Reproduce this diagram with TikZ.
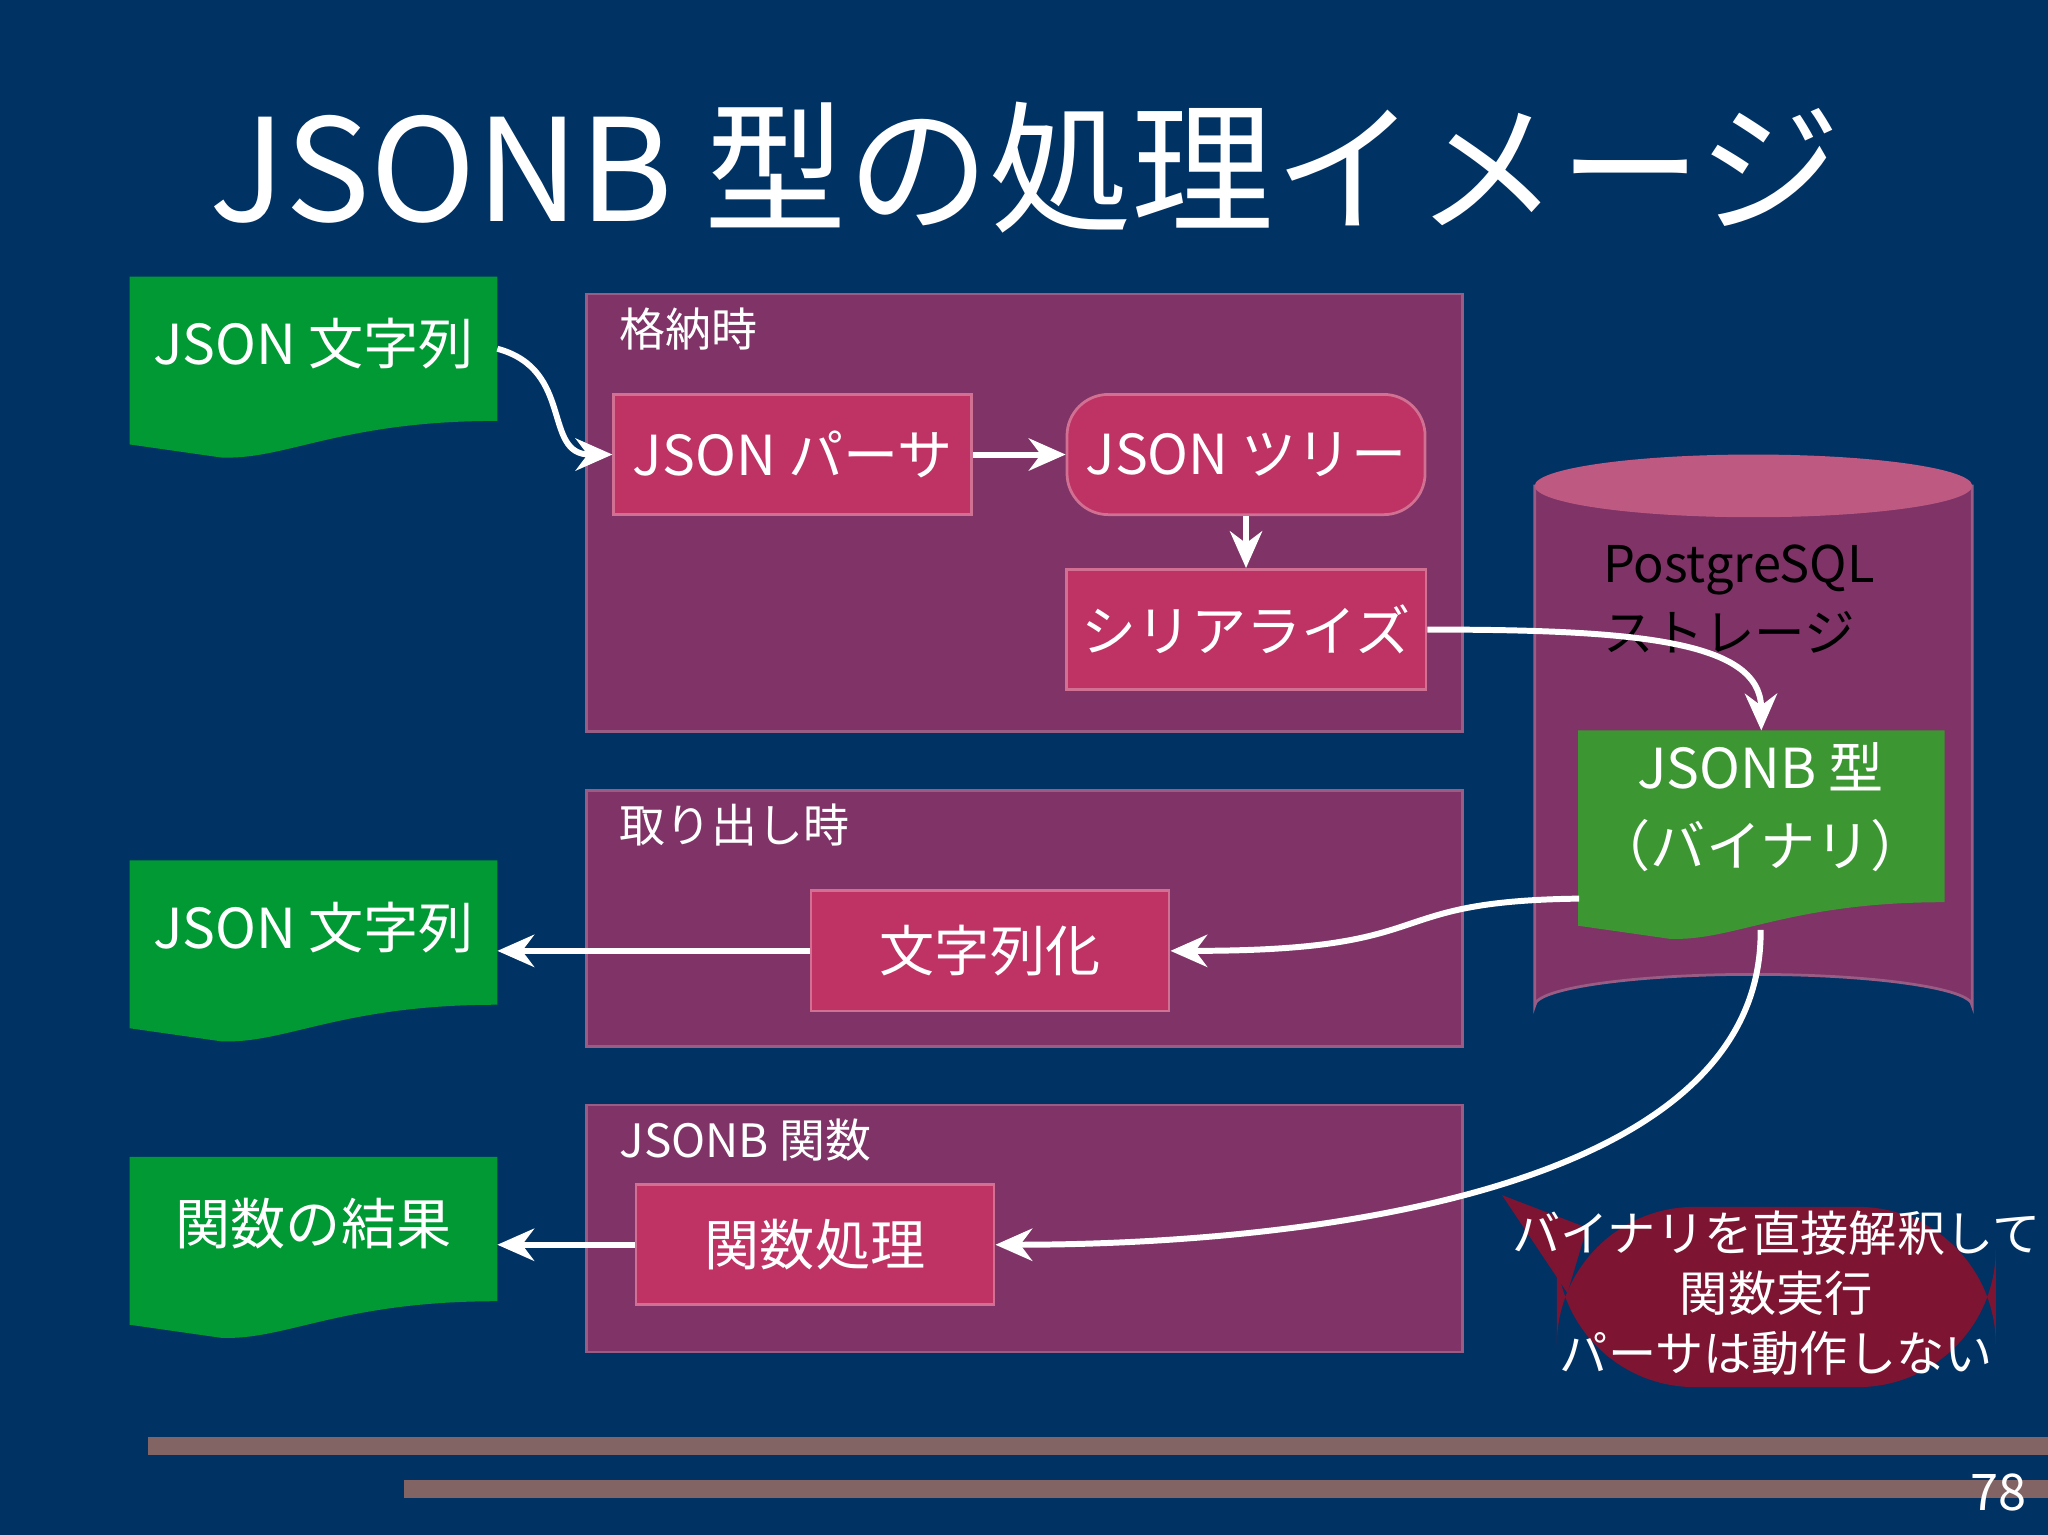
\documentclass[tikz,border=0pt]{standalone}
\usepackage{fontspec}
\setmainfont{Noto Sans CJK JP}
\usetikzlibrary{arrows.meta,shapes.geometric,shapes.callouts}
\definecolor{bg}{RGB}{0,50,100}
\definecolor{panel}{RGB}{127,51,102}
\definecolor{boxc}{RGB}{190,50,100}
\definecolor{docg}{RGB}{0,153,51}
\definecolor{docg2}{RGB}{60,150,50}
\definecolor{cyltop}{RGB}{190,90,130}
\definecolor{call}{RGB}{125,20,50}
\definecolor{bar}{RGB}{130,100,100}
\tikzset{
  panel/.style={fill=panel,draw=panel!80!white,line width=0.6pt,anchor=north west,inner sep=0pt},
  plabel/.style={text=white,font=\fontsize{10pt}{12pt}\selectfont,anchor=west},
  box/.style={fill=boxc,draw=boxc!70!white,line width=0.6pt,minimum width=2.74cm,minimum height=0.92cm,text=white,font=\fontsize{12pt}{14pt}\selectfont},
  doc/.style={minimum width=2.8cm,minimum height=1.09cm,text=white,font=\fontsize{12pt}{14pt}\selectfont,inner sep=0pt},
  arr/.style={draw=white,line width=1.3pt,-{Stealth[length=8pt,width=7pt]}}
}
\newcommand{\docwave}[2]{% name, color
  \fill[#2] (#1.north west) -- (#1.north east) -- (#1.south east)
    .. controls ([xshift=-1.2cm,yshift=0cm]#1.south east) and ([xshift=1.2cm,yshift=-0.3cm]#1.south west) ..
    ([xshift=0.7cm,yshift=-0.28cm]#1.south west) -- ([yshift=-0.18cm]#1.south west) -- cycle;}
\begin{document}
\begin{tikzpicture}[x=0.01cm,y=-0.01cm]
\fill[bg] (0,0) rectangle (1568,1175);
\useasboundingbox (0,0) rectangle (1568,1175);
\node[text=white,font=\fontsize{31pt}{36pt}\selectfont] (title) at (785,128) {JSONB 型の処理イメージ};
% panels
\node[panel,minimum width=6.7cm,minimum height=3.35cm] (p1) at (448,224) {};
\node[plabel] (l1) at (462,252) {格納時};
\node[panel,minimum width=6.7cm,minimum height=1.96cm] (p2) at (448,604) {};
\node[plabel] (l2) at (462,632) {取り出し時};
\node[panel,minimum width=6.7cm,minimum height=1.89cm] (p3) at (448,845) {};
\node[plabel] (l3) at (462,873) {JSONB 関数};
% boxes
\node[box] (parser) at (607,348) {JSON パーサ};
\node[box,rounded corners=9pt] (tree) at (954,348) {JSON ツリー};
\node[box] (ser) at (954,482) {シリアライズ};
\node[box] (str) at (758,728) {文字列化};
\node[box] (func) at (624,953) {関数処理};
% docs
\node[doc] (d1) at (240,267) {};
\docwave{d1}{docg}
\node[text=white,font=\fontsize{12pt}{14pt}\selectfont] (t1) at (240,263) {JSON 文字列};
\node[doc] (d2) at (240,714) {};
\docwave{d2}{docg}
\node[text=white,font=\fontsize{12pt}{14pt}\selectfont] (t2) at (240,710) {JSON 文字列};
\node[doc] (d3) at (240,941) {};
\docwave{d3}{docg}
\node[text=white,font=\fontsize{12pt}{14pt}\selectfont] (t3) at (240,937) {関数の結果};
% cylinder
\fill[panel] (1175,372) -- (1175,770) arc[start angle=180,end angle=360,x radius=167.5,y radius=24] -- (1510,372) -- cycle;
\fill[cyltop] (1342.5,372) ellipse[x radius=167.5,y radius=24];
\node[anchor=north west,align=left,font=\fontsize{11pt}{15pt}\selectfont,text=black] (pg) at (1215,405) {PostgreSQL\\ストレージ};
% jsonb
\node[doc,minimum width=2.79cm,minimum height=1.3cm] (jb) at (1348.5,625) {};
\docwave{jb}{docg2}
\node[text=white,align=center,font=\fontsize{12pt}{17pt}\selectfont] (jbt) at (1348,618) {JSONB 型\\（バイナリ）};
% callout
\fill[call] (1192,924) ++(0,0) [rounded corners=30pt] rectangle (1528,1062);
\fill[call] (1150,915) -- (1215,940) -- (1200,990) -- cycle;
\node[text=white,align=center,font=\fontsize{10.5pt}{13pt}\selectfont] (co) at (1360,990) {バイナリを直接解釈して\\関数実行\\パーサは動作しない};
% bars
\fill[bar] (113,1100) rectangle (1568,1114);
\fill[bar] (309,1133) rectangle (1568,1147);
\node[text=white,font=\fontsize{11pt}{13pt}\selectfont] (pn) at (1530,1143) {78};
% arrows
\draw[arr] (d1.east) .. controls (440,283) and (415,348) .. (parser.west);
\draw[arr] (parser) -- (tree);
\draw[arr] (tree) -- (ser);
\draw[arr] (ser.east) .. controls (1250,482) and (1348,490) .. (jb.north);
\draw[arr] (1209,688) .. controls (1050,690) and (1110,728) .. (str.east);
\draw[arr] (str.west) -- (d2.east |- str.west);
\draw[arr] (1348,712) .. controls (1350,940) and (900,953) .. (func.east);
\draw[arr] (func.west) -- (d3.east |- func.west);
\end{tikzpicture}
\end{document}
